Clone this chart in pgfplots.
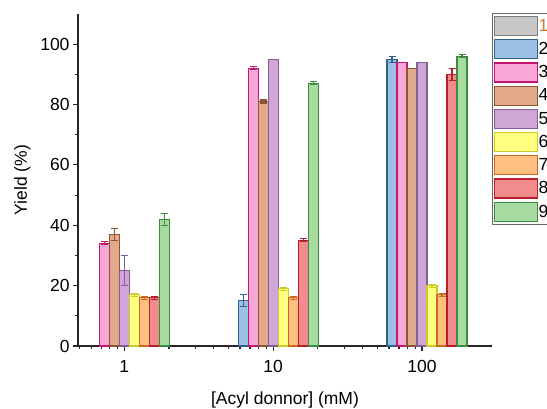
\documentclass[border=0pt]{standalone}
\usepackage{fontspec}
\setmainfont{Liberation Sans}
\usepackage{pgfplots}
\pgfplotsset{compat=1.18}

% Origin-like palette: fill / edge
\definecolor{fgray}{RGB}{200,200,200}   \definecolor{egray}{RGB}{125,125,125}
\definecolor{fblue}{RGB}{155,194,228}   \definecolor{eblue}{RGB}{52,96,140}
\definecolor{fpink}{RGB}{248,168,214}   \definecolor{epink}{RGB}{194,23,110}
\definecolor{fbrown}{RGB}{226,169,138}  \definecolor{ebrown}{RGB}{138,85,55}
\definecolor{fpurple}{RGB}{207,166,214} \definecolor{epurple}{RGB}{128,95,149}
\definecolor{fyellow}{RGB}{255,255,128} \definecolor{eyellow}{RGB}{204,204,40}
\definecolor{forange}{RGB}{255,191,128} \definecolor{eorange}{RGB}{200,105,30}
\definecolor{fred}{RGB}{242,140,140}    \definecolor{ered}{RGB}{179,32,42}
\definecolor{fgreen}{RGB}{168,219,160}  \definecolor{egreen}{RGB}{61,138,61}
\definecolor{legone}{RGB}{205,120,45}

\pgfplotsset{
  mybar/.style n args={2}{
    draw=#1, fill=#2, line width=1.1pt,
    error bars/.cd, y dir=both, y explicit,
    error bar style={draw=#1, line width=1.1pt},
    error mark options={draw=#1, rotate=90, mark size=3.5pt, line width=1.1pt},
  },
}

\begin{document}
\begin{tikzpicture}
\begin{axis}[
  at={(78pt,62pt)}, anchor=south west,
  scale only axis, width=414pt, height=332pt,
  ybar=0pt, bar width=10pt,
  xmode=log, xmin=0.49, xmax=295,
  log ticks with fixed point,
  ymin=0, ymax=110,
  ytick={0,20,...,100}, minor y tick num=1,
  axis x line*=bottom, axis y line*=left,
  axis line style={line width=1.2pt, draw=black!85},
  tick style={line width=1.1pt, draw=black!85},
  tick align=outside, major tick length=5pt, minor tick length=3pt,
  font=\fontsize{17.5}{20}\selectfont,
  /pgf/number format/assume math mode=true,
  xticklabel style={yshift=-6pt},
  xlabel={[Acyl donnor] (mM)},
  xlabel style={yshift=-12pt},
  ylabel={Yield (\%)},
  ylabel style={yshift=3pt},
  legend image code/.code={\draw[#1] (0pt,-9.5pt) rectangle (43pt,9.5pt);},
  legend style={at={(rel axis cs:1,1)}, anchor=north west, yshift=1pt,
    draw=black!60, line width=1pt, inner xsep=1pt, inner ysep=1pt,
    row sep=0pt, nodes={minimum height=23.2pt, inner sep=1pt, anchor=west}},
  legend cell align=left,
]
% series 1 has no measured bars; it only keeps its slot and legend entry
\addplot[draw=none, fill=none,
  legend image code/.code={\draw[draw=egray, fill=fgray, line width=1.1pt]
    (0pt,-9.5pt) rectangle (43pt,9.5pt);}] coordinates {
  (1,0) (10,0) (100,0)
};
\addlegendentry{\textcolor{legone}{1}}

\addplot[mybar={eblue}{fblue}] coordinates {
  (10,15) +- (0,2)  (100,95) +- (0,1)
};
\addlegendentry{2}
\addplot[mybar={epink}{fpink}] coordinates {
  (1,34) +- (0,0.5)  (10,92) +- (0,0.5)  (100,94) +- (0,0)
};
\addlegendentry{3}
\addplot[mybar={ebrown}{fbrown}] coordinates {
  (1,37) +- (0,2)  (10,81) +- (0,0.5)  (100,92) +- (0,0)
};
\addlegendentry{4}
\addplot[mybar={epurple}{fpurple}] coordinates {
  (1,25) +- (0,5)  (10,95) +- (0,0)  (100,94) +- (0,0)
};
\addlegendentry{5}
\addplot[mybar={eyellow}{fyellow}] coordinates {
  (1,17) +- (0,0.5)  (10,19) +- (0,0.5)  (100,20) +- (0,0.5)
};
\addlegendentry{6}
\addplot[mybar={eorange}{forange}] coordinates {
  (1,16) +- (0,0.5)  (10,16) +- (0,0.5)  (100,17) +- (0,0.5)
};
\addlegendentry{7}
\addplot[mybar={ered}{fred}] coordinates {
  (1,16) +- (0,0.5)  (10,35) +- (0,0.5)  (100,90) +- (0,2)
};
\addlegendentry{8}
\addplot[mybar={egreen}{fgreen}] coordinates {
  (1,42) +- (0,2)  (10,87) +- (0,0.5)  (100,96) +- (0,0.5)
};
\addlegendentry{9}
\end{axis}
\pgfresetboundingbox
\path[use as bounding box] (0,0) rectangle (547pt,408pt);
\end{tikzpicture}
\end{document}
